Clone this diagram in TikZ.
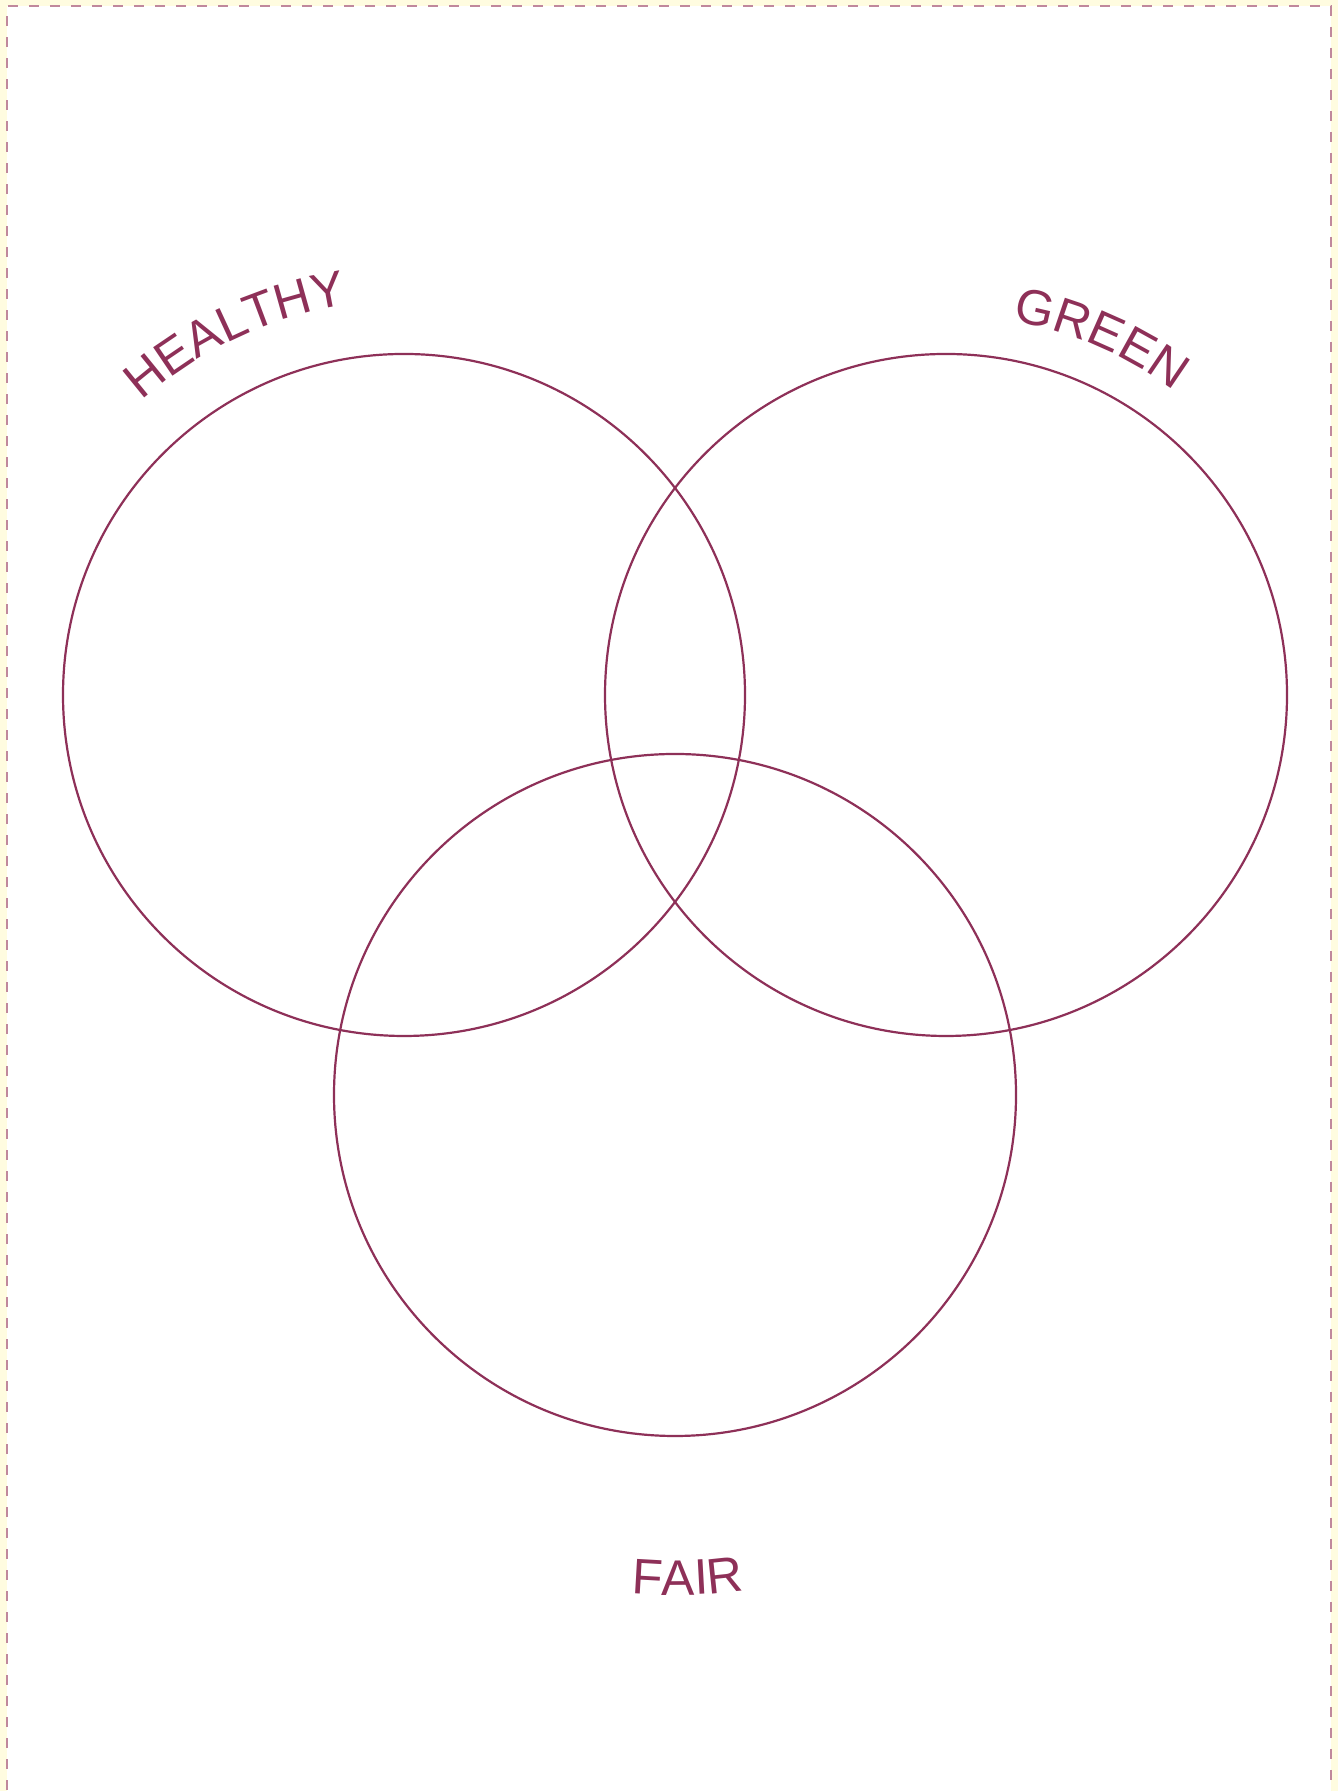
\documentclass[tikz,border=0pt]{standalone}
\usepackage{fontspec}
\newfontfamily\labfont{Liberation Sans}
\usetikzlibrary{decorations.text}
\definecolor{labcol}{RGB}{142,48,88}
\definecolor{cream}{RGB}{255,252,224}
\definecolor{bordercol}{RGB}{192,136,156}
\tikzset{
  setcircle/.style={draw=labcol, line width=1.1pt},
  arclabel/.style={decorate, decoration={text along path, text align=center,
     text={|\labfont\fontsize{25}{29}\selectfont\color{labcol}|#1}}}
}
\begin{document}
\begin{tikzpicture}[x=0.5pt,y=0.5pt]
\useasboundingbox (0,0) rectangle (1338,1791);
\clip (0,0) rectangle (1338,1791);
\fill[cream] (0,0) rectangle (1338,1791);
\fill[white] (7,-20) rectangle (1331,1785);
\draw[bordercol, line width=1.15pt, dash pattern=on 5pt off 5.5pt] (7,-20) -- (7,1785) -- (1331,1785) -- (1331,-20);
% circles
\path[setcircle] (404,1096) circle[radius=341];
\path[setcircle] (946,1096) circle[radius=341];
\path[setcircle] (675,696) circle[radius=341];
% labels
\path[arclabel=HEALTHY] ([shift={(139:394)}]404,1096) arc[start angle=139, end angle=91, radius=394];
\path[arclabel=GREEN] ([shift={(90:380)}]946,1096) arc[start angle=90, end angle=43, radius=380];
\path[arclabel=FAIR] ([shift={(256.5:500)}]675,696) arc[start angle=256.5, end angle=286.5, radius=500];
\end{tikzpicture}
\end{document}
